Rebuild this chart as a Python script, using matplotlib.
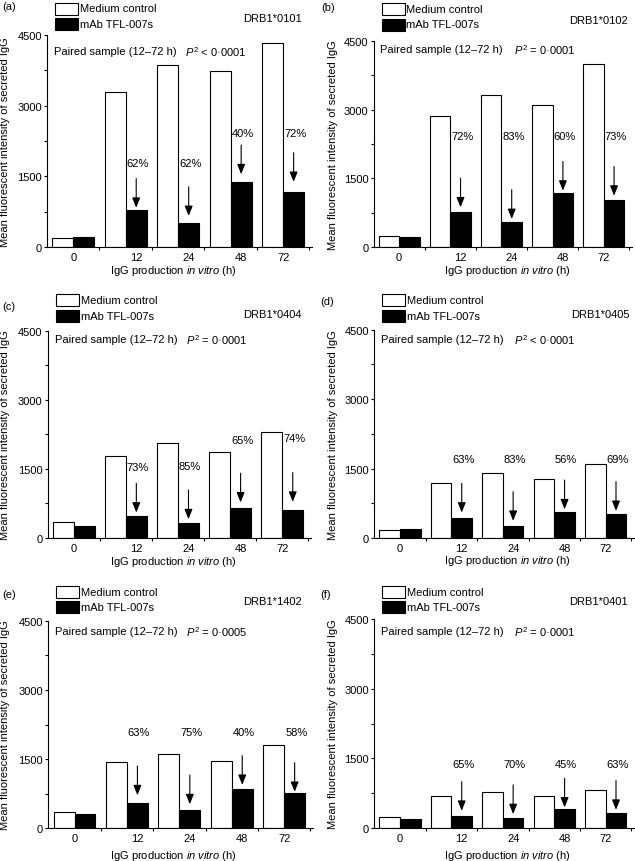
# Recrea la figura de seis paneles: IgG secretada con control y con mAb TFL-007s

# Para calculos numericos
import numpy as np

# Para crear graficas
import matplotlib.pyplot as plt
from matplotlib.patches import Rectangle

# horas de produccion
Horas = ["0", "12", "24", "48", "72"]

# control de medio (barras blancas)
Control_a = [200, 3300, 3860, 3740, 4330]
Control_b = [250, 2870, 3320, 3100, 4000]
Control_c = [350, 1780, 2060, 1860, 2300]
Control_d = [165, 1190, 1410, 1280, 1600]
Control_e = [350, 1430, 1620, 1450, 1810]
Control_f = [230, 680, 770, 680, 820]

# anticuerpo mAb TFL-007s (barras negras)
Anticuerpo_a = [220, 790, 520, 1390, 1170]
Anticuerpo_b = [230, 760, 560, 1180, 1040]
Anticuerpo_c = [250, 475, 330, 660, 610]
Anticuerpo_d = [190, 440, 260, 570, 510]
Anticuerpo_e = [320, 540, 400, 850, 770]
Anticuerpo_f = [190, 250, 210, 400, 320]

# porcentaje de inhibicion (12 a 72 h)
Inhibicion_a = [62, 62, 40, 72]
Inhibicion_b = [72, 83, 60, 73]
Inhibicion_c = [73, 85, 65, 74]
Inhibicion_d = [63, 83, 56, 69]
Inhibicion_e = [63, 75, 40, 58]
Inhibicion_f = [65, 70, 45, 63]

# alelos y valores p
Alelos = ["DRB1*0101", "DRB1*0102", "DRB1*0404", "DRB1*0405", "DRB1*1402", "DRB1*0401"]
Valores_p = ["< 0·0001", "= 0·0001", "= 0·0001", "< 0·0001", "= 0·0005", "= 0·0001"]
Letras = ["(a)", "(b)", "(c)", "(d)", "(e)", "(f)"]

# altura de los porcentajes y punta de las flechas (anotaciones)
Altura_texto = [
    [1780, 1790, 2430, 2430],
    [2430, 2430, 2430, 2430],
    [1537, 1573, 2119, 2170],
    [1707, 1707, 1707, 1707],
    [2094, 2094, 2094, 2094],
    [1386, 1386, 1386, 1386],
]
Punta_flecha = [
    [833, 659, 1545, 1382],
    [871, 617, 1234, 1125],
    [553, 408, 772, 787],
    [550, 371, 621, 586],
    [717, 522, 942, 790],
    [371, 300, 443, 393],
]

Controles = [Control_a, Control_b, Control_c, Control_d, Control_e, Control_f]
Anticuerpos = [Anticuerpo_a, Anticuerpo_b, Anticuerpo_c, Anticuerpo_d, Anticuerpo_e, Anticuerpo_f]
Inhibiciones = [Inhibicion_a, Inhibicion_b, Inhibicion_c, Inhibicion_d, Inhibicion_e, Inhibicion_f]

# cajas de los ejes en pixeles (izq, arriba, der, abajo)
Cajas = [
    (47, 36, 312, 248),
    (373.5, 41.7, 632, 248.3),
    (47.7, 331.7, 311, 539),
    (374.3, 330.7, 634, 539),
    (48.3, 621.7, 313, 829.3),
    (374.3, 620, 634, 829),
]

# posiciones de textos en pixeles
Leyenda_y = [3.5, 4, 295, 295, 586.7, 586.7]
Letra_xy = [(2, 7), (321, 8.3), (2, 306.7), (320, 301.7), (2, 595), (320, 595)]
Alelo_xy = [(302, 19), (628, 20.7), (302, 315), (630, 315), (302, 601.7), (628, 601.7)]
Pareado_y = [51.7, 50, 340, 340, 631.7, 631.7]
Etiqueta_x_y = [271, 271, 562, 561, 856, 856]

# desplazamiento de las etiquetas del eje x (bajo la barra negra)
Desfase_etiquetas = [0, 0.2, 0.2, 0.2, 0]

# fuentes
plt.rcParams["font.family"] = ["Liberation Sans", "DejaVu Sans"]
plt.rcParams["mathtext.fontset"] = "custom"
plt.rcParams["mathtext.rm"] = "Liberation Sans"
plt.rcParams["mathtext.it"] = "Liberation Sans:italic"
plt.rcParams["font.size"] = 8

Ancho, Alto = 635, 862

# crear figura
fig = plt.figure(figsize=(Ancho / 100, Alto / 100), dpi=100)


# convertir pixeles a fraccion de figura
def Fig_xy(x, y):
    return x / Ancho, 1 - y / Alto


Posiciones = np.arange(len(Horas))

for i in range(6):

    Izq, Arr, Der, Abj = Cajas[i]

    ax = fig.add_axes([
        Izq / Ancho,
        1 - Abj / Alto,
        (Der - Izq) / Ancho,
        (Abj - Arr) / Alto
    ])

    # barras
    ax.bar(Posiciones - 0.2, Controles[i], 0.4, color="white", edgecolor="black", linewidth=0.8)
    ax.bar(Posiciones + 0.2, Anticuerpos[i], 0.4, color="black", edgecolor="black", linewidth=0.8)

    # limites y marcas
    ax.set_xlim(-0.5, 4.55)
    ax.set_ylim(0, 4500)
    ax.set_yticks([0, 1500, 3000, 4500])
    ax.set_yticks([750, 2250, 3750], minor=True)
    ax.set_xticks(Posiciones + np.array(Desfase_etiquetas))
    ax.set_xticklabels(Horas)
    ax.set_xticks(Posiciones + 0.5, minor=True)
    ax.tick_params(axis="x", which="major", length=0, pad=3.5, labelsize=8)
    ax.tick_params(axis="x", which="minor", length=2.2, width=0.8)
    ax.tick_params(axis="y", which="both", length=2.2, width=0.8, pad=1.5, labelsize=8)

    for Lado in ["top", "right"]:
        ax.spines[Lado].set_visible(False)
    for Lado in ["left", "bottom"]:
        ax.spines[Lado].set_linewidth(0.8)

    # flechas y porcentajes
    for j in range(4):
        X_barra = Posiciones[j + 1] + 0.2
        ax.annotate(
            "",
            xy=(X_barra, Punta_flecha[i][j]),
            xytext=(0, 21),
            textcoords="offset points",
            arrowprops=dict(
                arrowstyle="-|>,head_length=0.6,head_width=0.24",
                mutation_scale=10,
                color="black",
                lw=0.8,
                shrinkA=0,
                shrinkB=0
            )
        )
        ax.text(
            X_barra + 0.03,
            Altura_texto[i][j],
            f"{Inhibiciones[i][j]}%",
            ha="center",
            va="center",
            fontsize=8
        )

    # leyenda manual
    Caja_x = Izq + 8
    fig.add_artist(Rectangle(
        Fig_xy(Caja_x, Leyenda_y[i] + 12), 23 / Ancho, 12 / Alto,
        transform=fig.transFigure, facecolor="white", edgecolor="black", linewidth=0.8
    ))
    fig.add_artist(Rectangle(
        Fig_xy(Caja_x, Leyenda_y[i] + 27.5), 23 / Ancho, 12 / Alto,
        transform=fig.transFigure, facecolor="black", edgecolor="black", linewidth=0.8
    ))
    fig.text(*Fig_xy(Caja_x + 25, Leyenda_y[i] + 6), "Medium control", ha="left", va="center", fontsize=8)
    fig.text(*Fig_xy(Caja_x + 25, Leyenda_y[i] + 21.5), "mAb TFL-007s", ha="left", va="center", fontsize=8)

    # letra del panel y alelo
    fig.text(*Fig_xy(*Letra_xy[i]), Letras[i], ha="left", va="center", fontsize=8)
    fig.text(*Fig_xy(*Alelo_xy[i]), Alelos[i], ha="right", va="center", fontsize=8)

    # muestra pareada
    Texto_x = Izq + 7
    Salto = 131 if i % 2 == 0 else 133
    fig.text(*Fig_xy(Texto_x, Pareado_y[i]), "Paired sample (12–72 h)", ha="left", va="center", fontsize=8)
    fig.text(*Fig_xy(Texto_x + Salto, Pareado_y[i]), "$P^{2}$ " + Valores_p[i], ha="left", va="center", fontsize=8)

    # etiquetas de ejes
    Centro_x = 173 if i % 2 == 0 else 507
    fig.text(*Fig_xy(Centro_x, Etiqueta_x_y[i]), "IgG production $\\mathit{in\\ vitro}$ (h)",
             ha="center", va="center", fontsize=8)
    Y_label_x = 5.5 if i % 2 == 0 else 333
    fig.text(*Fig_xy(Y_label_x, (Arr + Abj) / 2), "Mean fluorescent intensity of secreted IgG",
             ha="center", va="center", rotation=90, fontsize=8)

# guardar figura
fig.savefig("out.png", dpi=100)
